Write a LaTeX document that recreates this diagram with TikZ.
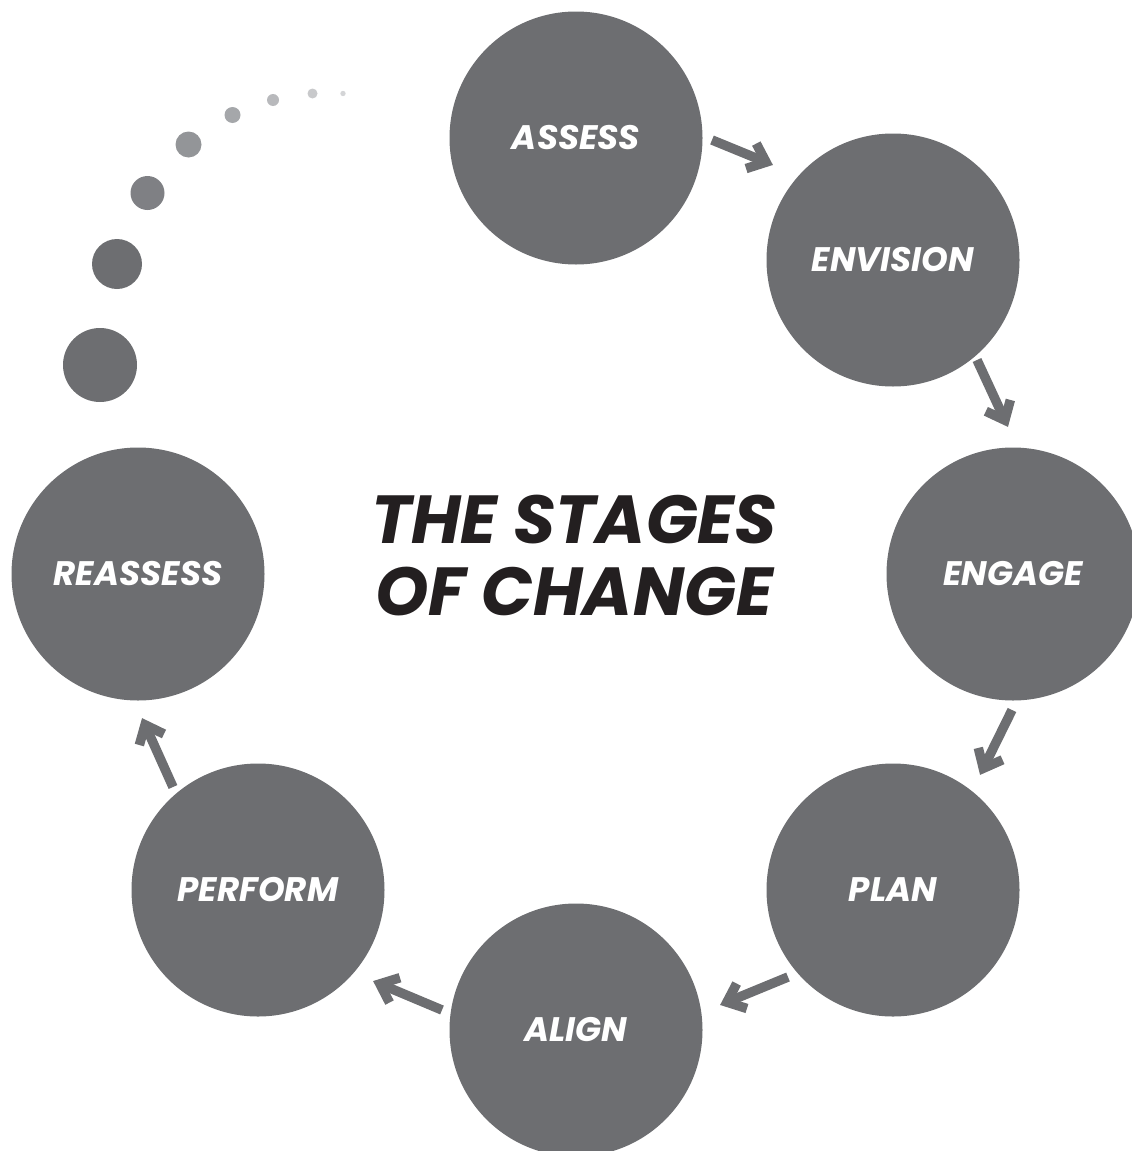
\documentclass[tikz,border=0pt]{standalone}
\usepackage{fontspec}
\usetikzlibrary{calc}
\newfontfamily\stagefont{Poppins}
\definecolor{stagegray}{HTML}{6D6E71}
\definecolor{titleblack}{HTML}{231F20}
\definecolor{dotA}{HTML}{6D6E71}
\definecolor{dotB}{HTML}{7F8084}
\definecolor{dotC}{HTML}{939598}
\definecolor{dotD}{HTML}{A5A7AA}
\definecolor{dotE}{HTML}{B8B9BC}
\definecolor{dotF}{HTML}{C8C9CB}
\definecolor{dotG}{HTML}{D4D5D7}
% thick arrow with an open chevron head, from #1 to #2
\newcommand{\stagearrow}[2]{%
  \coordinate (#2-in) at ($(#2)!7.5pt!(#1)$);
  \draw[flow] (#1) -- (#2-in);
  \draw[flow,line join=miter]
    let \p1 = ($(#1)-(#2)$), \n1 = {atan2(\y1,\x1)} in
    ($(#2-in)+(\n1+40:21pt)$) -- (#2-in) -- ($(#2-in)+(\n1-40:21pt)$);}
\begin{document}
\begin{tikzpicture}[x=1pt,y=-1pt,
  stage/.style={circle,fill=stagegray,minimum size=253pt,inner sep=0pt,
    text=white,font=\stagefont\fontsize{34}{40}\selectfont\bfseries\itshape},
  flow/.style={draw=stagegray,line width=9.5pt},
  title/.style={align=center,text=titleblack,
    font=\stagefont\fontsize{68}{72}\selectfont\bfseries\itshape}]
\useasboundingbox (0,0) rectangle (1132,1151);
\clip (0,0) rectangle (1132,1151);

% the fading trail of dots
\fill[dotA] (100,365) circle (37);
\fill[dotA] (117,264) circle (25);
\fill[dotB] (147.5,193) circle (17);
\fill[dotC] (188.5,144.5) circle (13);
\fill[dotD] (232.5,115) circle (8);
\fill[dotE] (273,100) circle (6);
\fill[dotF] (312.5,93.5) circle (5);
\fill[dotG] (343,93.5) circle (2.7);

% the stages
\node[stage] (assess)   at (576,138)  {ASSESS};
\node[stage] (envision) at (893,260)  {ENVISION};
\node[stage] (engage)   at (1013,574) {ENGAGE};
\node[stage] (plan)     at (893,890)  {PLAN};
\node[stage] (align)    at (576,1030) {ALIGN};
\node[stage] (perform)  at (258,890)  {PERFORM};
\node[stage] (reassess) at (138,574)  {REASSESS};

\node[title] (heading) at (574,556) {THE STAGES\\OF CHANGE};

% arrow end points between neighbouring stages
\coordinate (a1s) at ($(assess)+(136,2)$);
\coordinate (a1e) at ($(envision)+(-120,-95)$);
\coordinate (a2s) at ($(envision)+(84,100)$);
\coordinate (a2e) at ($(engage)+(-5,-147)$);
\coordinate (a3s) at ($(engage)+(-1,136)$);
\coordinate (a3e) at ($(plan)+(87,-115)$);
\coordinate (a4s) at ($(plan)+(-105,87)$);
\coordinate (a4e) at ($(align)+(144,-25)$);
\coordinate (a5s) at ($(align)+(-134,-20)$);
\coordinate (a5e) at ($(perform)+(115,91)$);
\coordinate (a6s) at ($(perform)+(-85,-103)$);
\coordinate (a6e) at ($(reassess)+(4,144)$);

\stagearrow{a1s}{a1e}
\stagearrow{a2s}{a2e}
\stagearrow{a3s}{a3e}
\stagearrow{a4s}{a4e}
\stagearrow{a5s}{a5e}
\stagearrow{a6s}{a6e}
\end{tikzpicture}
\end{document}
